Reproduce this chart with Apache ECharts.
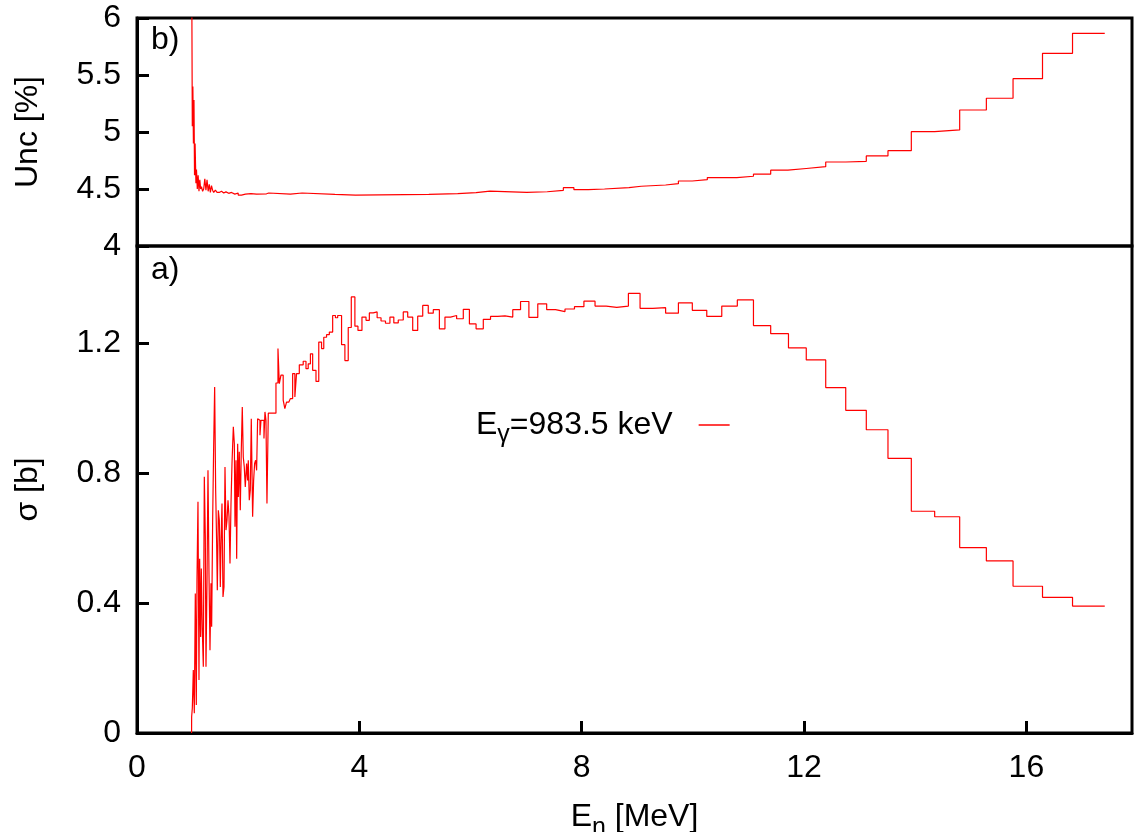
<!DOCTYPE html>
<html>
<head>
<meta charset="utf-8">
<script src="https://cdn.jsdelivr.net/npm/echarts@6/dist/echarts.min.js"></script>
<style>
html,body{margin:0;padding:0;background:#fff;width:100%;height:100%;overflow:hidden;}
#c{position:absolute;left:0;top:0;width:1137px;height:832px;}
</style>
</head>
<body>
<div id="c"></div>
<script>
// ---- Data (bin left edges in MeV, last edge repeats the final value) ----
const sigmaE = [
 0.982,0.983,0.995,1.013,1.031,1.049,1.067,1.079,1.097,1.115,
 1.127,1.145,1.157,1.175,1.193,1.211,1.229,1.241,1.259,1.277,
 1.295,1.313,1.331,1.343,1.361,1.379,1.397,1.415,1.433,1.445,
 1.463,1.481,1.499,1.511,1.529,1.547,1.565,1.583,1.601,1.619,
 1.637,1.655,1.673,1.691,1.709,1.733,1.751,1.763,1.781,1.793,
 1.811,1.823,1.840,1.858,1.876,1.894,1.912,1.930,1.948,1.972,
 1.990,2.002,2.020,2.038,2.056,2.080,2.098,2.116,2.134,2.152,
 2.170,2.194,2.212,2.230,2.254,2.284,2.302,2.320,2.338,2.362,
 2.50,2.536,2.56,2.59,2.63,2.66,2.69,2.73,2.76,2.80,
 2.84,2.87,2.92,2.99,3.04,3.08,3.12,3.16,3.22,3.27,
 3.32,3.36,3.41,3.46,3.52,3.57,3.61,3.68,3.74,3.80,
 3.855,3.92,3.975,4.047,4.12,4.18,4.25,4.32,4.39,4.47,
 4.55,4.62,4.70,4.79,4.87,4.96,5.05,5.14,5.24,5.33,
 5.44,5.54,5.64,5.75,5.87,5.98,6.10,6.23,6.36,6.49,
 6.62,6.76,6.90,7.05,7.21,7.37,7.53,7.70,7.87,8.04,
 8.24,8.44,8.63,8.84,9.05,9.28,9.51,9.74,9.99,10.25,
 10.52,10.80,11.09,11.40,11.72,12.04,12.39,12.75,13.12,13.51,
 13.93,14.35,14.80,15.28,15.76,16.29,16.83,17.41
];
const sigmaVal = [
 0,0.050,0.076,0.194,0.061,0.430,0.086,0.471,0.712,0.163,
 0.537,0.296,0.507,0.317,0.204,0.789,0.604,0.204,0.461,0.809,
 0.491,0.255,0.461,0.327,0.655,0.881,1.066,0.748,0.584,0.440,
 0.686,0.655,0.450,0.584,0.707,0.419,0.450,0.819,0.625,0.655,
 0.717,0.666,0.522,0.707,0.830,0.943,0.891,0.635,0.840,0.537,
 0.891,0.727,0.866,0.686,0.871,1.004,0.850,0.819,0.758,0.830,
 0.778,0.840,0.717,0.748,0.968,0.666,0.778,0.830,0.840,0.809,
 0.968,0.963,0.917,0.963,0.963,0.907,0.989,0.963,0.707,0.985,
 1.078,1.184,1.076,1.102,1.025,0.999,1.019,1.025,1.03,1.107,
 1.035,1.107,1.134,1.145,1.122,1.137,1.168,1.117,1.083,1.204,
 1.184,1.219,1.227,1.235,1.286,1.279,1.286,1.196,1.147,1.249,
 1.343,1.253,1.240,1.281,1.271,1.294,1.297,1.279,1.269,1.262,
 1.281,1.263,1.272,1.297,1.281,1.240,1.284,1.317,1.293,1.304,
 1.245,1.281,1.286,1.276,1.305,1.260,1.245,1.274,1.283,1.285,
 1.281,1.304,1.329,1.280,1.322,1.304,1.298,1.306,1.313,1.330,
 1.315,1.311,1.315,1.354,1.308,1.310,1.293,1.325,1.302,1.283,
 1.315,1.334,1.255,1.230,1.186,1.149,1.064,0.994,0.934,0.846,
 0.683,0.666,0.571,0.530,0.452,0.418,0.391,0.391
];
const uncE = [
 0.983,0.995,1.005,1.015,1.025,1.035,1.045,1.06,1.07,1.085,
 1.10,1.115,1.13,1.145,1.16,1.18,1.20,1.22,1.24,1.26,
 1.28,1.30,1.32,1.34,1.36,1.38,1.41,1.44,1.48,1.52,
 1.56,1.60,1.65,1.70,1.76,1.82,1.88,1.95,2.05,2.15,
 2.33,2.37,2.76,2.97,3.56,3.93,5.25,5.77,6.10,6.35,
 7.01,7.38,7.67,7.86,8.12,8.41,8.85,9.07,9.51,9.74,
 9.99,10.26,10.79,11.09,11.40,11.71,12.04,12.39,12.75,13.12,
 13.51,13.93,14.35,14.80,15.28,15.76,16.29,16.83,17.41
];
const uncVal = [
 6.6,5.05,5.40,4.90,5.28,4.62,4.90,4.55,4.67,4.50,
 4.62,4.48,4.58,4.50,4.52,4.48,4.50,4.59,4.49,4.58,
 4.48,4.54,4.47,4.53,4.49,4.47,4.49,4.47,4.48,4.465,
 4.475,4.462,4.47,4.455,4.465,4.447,4.455,4.46,4.455,4.458,
 4.465,4.455,4.465,4.452,4.447,4.453,4.459,4.468,4.482,4.47,
 4.476,4.488,4.512,4.494,4.50,4.512,4.524,4.535,4.547,4.57,
 4.582,4.60,4.612,4.63,4.665,4.68,4.696,4.737,4.743,4.79,
 4.836,5.003,5.018,5.193,5.296,5.468,5.69,5.866,5.866
];
const xTicks = [0, 4, 8, 12, 16];
const uncTicks = [4, 4.5, 5, 5.5, 6];
const sigmaTicks = [0, 0.4, 0.8, 1.2];
const seriesName = 'Eg983.5';

const sigmaData = sigmaE.map((e, i) => [e, sigmaVal[i]]);
const uncData = uncE.map((e, i) => [e, uncVal[i]]);

const FONT = 'Liberation Sans';
const FS = 32;
const chart = echarts.init(document.getElementById('c'), null, {renderer: 'canvas', width: 1137, height: 832});

const tickStyle = {inside: true, length: 12, lineStyle: {color: '#000', width: 3}};
const labStyle = {color: '#000', fontSize: FS, fontFamily: FONT};

chart.setOption({
  animation: false,
  backgroundColor: '#fff',
  grid: [
    {left: 137, right: 5, top: 18, height: 228, show: true, borderColor: '#000', borderWidth: 3,
     containLabel: false, outerBoundsMode: 'none'},
    {left: 137, right: 5, top: 246, bottom: 99, show: true, borderColor: '#000', borderWidth: 3,
     containLabel: false, outerBoundsMode: 'none'}
  ],
  xAxis: [
    {gridIndex: 0, type: 'value', min: 0, max: 17.9, interval: 4,
     axisLine: {show: false}, axisTick: {show: false}, axisLabel: {show: false}, splitLine: {show: false}},
    {gridIndex: 1, type: 'value', min: 0, max: 17.9, interval: 4,
     axisLine: {show: true, lineStyle: {color: '#000', width: 3}},
     axisTick: tickStyle,
     axisLabel: Object.assign({margin: 19, showMaxLabel: false,
       formatter: v => xTicks.includes(v) ? String(v) : ''}, labStyle),
     splitLine: {show: false},
     name: '{a|E}{s|n}{a| [MeV]}', nameLocation: 'middle', nameGap: 61,
     nameTextStyle: {color: '#000', fontFamily: FONT, rich: {
       a: {fontSize: FS, fontFamily: FONT, color: '#000'},
       s: {fontSize: 25, fontFamily: FONT, color: '#000', padding: [22, 0, 0, 0]}
     }}}
  ],
  yAxis: [
    {gridIndex: 0, type: 'value', min: 4, max: 6, interval: 0.5,
     axisLine: {show: true, lineStyle: {color: '#000', width: 3}},
     axisTick: tickStyle,
     axisLabel: Object.assign({margin: 16,
       formatter: v => uncTicks.includes(v) ? String(v) : ''}, labStyle),
     splitLine: {show: false},
     name: 'Unc [%]', nameLocation: 'middle', nameGap: 93,
     nameTextStyle: {color: '#000', fontSize: FS, fontFamily: FONT}},
    {gridIndex: 1, type: 'value', min: 0, max: 1.5, interval: 0.4,
     axisLine: {show: true, lineStyle: {color: '#000', width: 3}},
     axisTick: tickStyle,
     axisLabel: Object.assign({margin: 16, showMaxLabel: false,
       formatter: v => sigmaTicks.some(t => Math.abs(t - v) < 1e-9) ? String(+v.toFixed(1)) : ''}, labStyle),
     splitLine: {show: false},
     name: 'σ [b]', nameLocation: 'middle', nameGap: 93,
     nameTextStyle: {color: '#000', fontSize: FS, fontFamily: FONT}}
  ],
  legend: {
    left: 471, top: 404, align: 'right', itemWidth: 31, itemHeight: 1.5, icon: 'rect',
    data: [seriesName],
    itemStyle: {color: '#ff0000', borderWidth: 0},
    formatter: () => '{a|E}{g|γ}{a|=983.5 keV}{p|}',
    textStyle: {color: '#000', fontFamily: FONT, fontSize: FS, rich: {
      a: {fontSize: FS, fontFamily: FONT, color: '#000'},
      g: {fontSize: 25, fontFamily: FONT, color: '#000', padding: [20, 0, 0, 0]},
      p: {width: 21}
    }}
  },
  graphic: [
    {type: 'text', left: 151, top: 24, style: {text: 'b)', fontSize: FS, fontFamily: FONT, fill: '#000'}},
    {type: 'text', left: 151, top: 254, style: {text: 'a)', fontSize: FS, fontFamily: FONT, fill: '#000'}}
  ],
  series: [
    {name: 'unc', type: 'line', xAxisIndex: 0, yAxisIndex: 0, data: uncData, step: 'end',
     symbol: 'none', clip: true, lineStyle: {color: '#ff0000', width: 1.2}, itemStyle: {color: '#ff0000'}},
    {name: seriesName, type: 'line', xAxisIndex: 1, yAxisIndex: 1, data: sigmaData, step: 'end',
     symbol: 'none', clip: true, lineStyle: {color: '#ff0000', width: 1.2}, itemStyle: {color: '#ff0000'}}
  ]
});
</script>
</body>
</html>
